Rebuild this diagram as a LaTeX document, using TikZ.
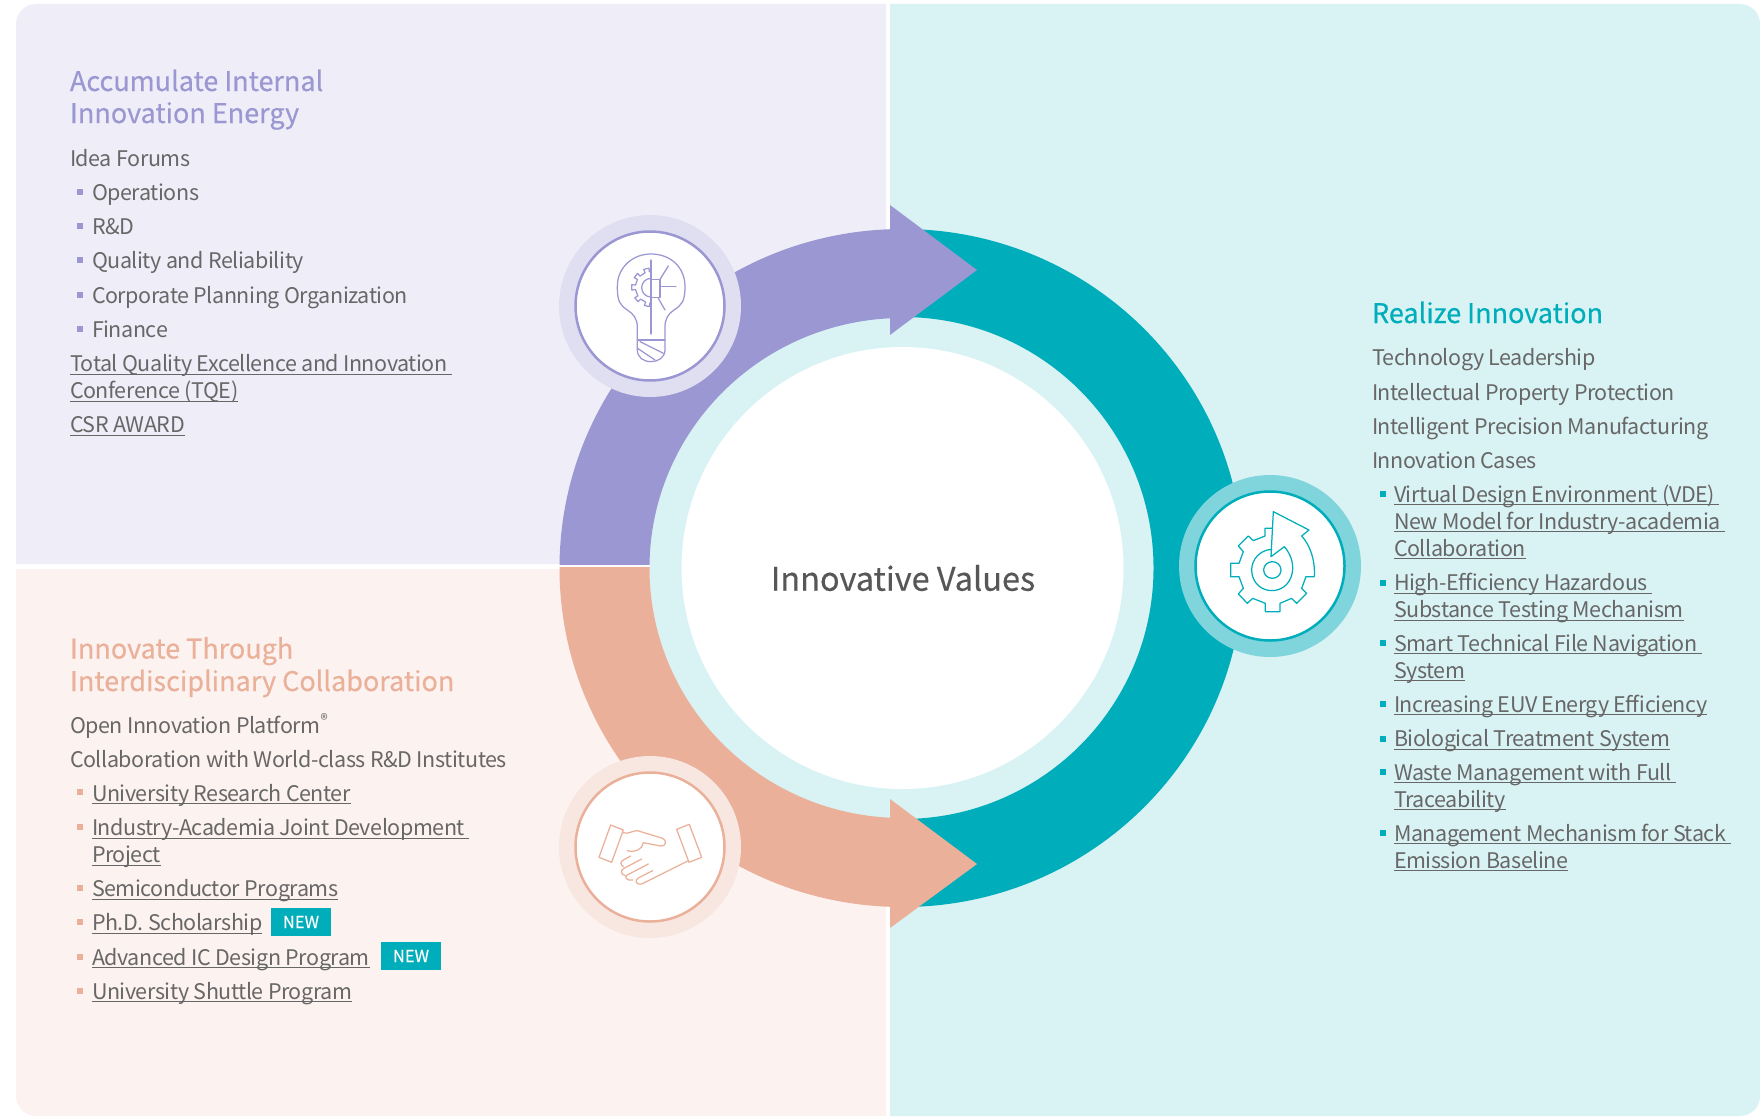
\documentclass[tikz,border=0pt]{standalone}
\usepackage{fontspec}
\setmainfont{Noto Sans CJK SC}[LetterSpace=-2]
\newfontfamily\medfont{Noto Sans CJK SC}[FakeBold=0.35]
\definecolor{pnlP}{HTML}{EFEEF8}
\definecolor{pnlS}{HTML}{FCF2EF}
\definecolor{pnlT}{HTML}{D9F3F4}
\definecolor{cP}{HTML}{9B97D2}
\definecolor{cS}{HTML}{EAB09A}
\definecolor{cT}{HTML}{00ADBB}
\definecolor{hP}{HTML}{E0DFF1}
\definecolor{hS}{HTML}{F8E7E1}
\definecolor{hT}{HTML}{80D5DD}
\definecolor{txt}{HTML}{686767}
\newcommand\ulk[1]{\setbox0\hbox{#1}\rlap{\rule[-3.2pt]{\wd0}{1pt}}\box0}
\tikzset{
 body/.style={anchor=base west,inner sep=0pt,outer sep=0pt,text=txt,font=\fontsize{21.5}{27}\selectfont},
 head/.style={anchor=base west,inner sep=0pt,outer sep=0pt,font=\medfont\fontsize{27}{32}\selectfont},
 bul/.style={inner sep=0pt,minimum size=6pt,outer sep=0pt},
 badge/.style={fill=cT,inner sep=0pt,minimum width=60pt,minimum height=28pt,text=white,font=\medfont\fontsize{16.5}{18}\selectfont},
 iconline/.style={line width=1.25pt,line join=round,line cap=round},
}
\begin{document}
\begin{tikzpicture}[x=1pt,y=-1pt]
\useasboundingbox (0,0) rectangle (1760,1116);
\fill[white] (0,0) rectangle (1760,1116);
% panels
\fill[pnlP] (16,564) [rounded corners=20pt] -- (16,4) -- (60,4) [sharp corners] -- (886,4) -- (886,564) -- cycle;
\fill[pnlS] (886,569) -- (16,569) [rounded corners=20pt] -- (16,1116) -- (60,1116) [sharp corners] -- (886,1116) -- cycle;
\fill[pnlT] (890,4) -- (1700,4) [rounded corners=20pt] -- (1760,4) -- (1760,1116) -- (1700,1116) [sharp corners] -- (890,1116) -- cycle;
% centre
\fill[pnlT] (902.5,568) circle [x radius=253,y radius=251];
% ring segments
\begin{scope}
\clip (890,0) rectangle (1760,1116);
\fill[cT,even odd rule] (902.5,568) circle [x radius=341,y radius=339] (902.5,568) circle (251);
\end{scope}
\begin{scope}
\clip (0,0) rectangle (890,564.5);
\fill[cP,even odd rule] (902.5,568) circle [x radius=343,y radius=339] (902.5,568) circle [x radius=253,y radius=250];
\end{scope}
\begin{scope}
\clip (0,567.5) rectangle (890,1116);
\fill[cS,even odd rule] (902.5,568) circle [x radius=343,y radius=339] (902.5,568) circle [x radius=253,y radius=250];
\end{scope}
\fill[cP] (890,205) -- (977,270) -- (890,335) -- cycle;
\fill[cS] (890,799) -- (977,864) -- (890,928) -- cycle;
\node[circle,fill=white,minimum size=442pt,inner sep=0pt] (core) at (902.5,568) {};
\node[inner sep=0pt,text=txt!85!black,font=\medfont\fontsize{32.5}{40}\selectfont] (coretxt) at (903,578) {Innovative Values};
% icon discs
\node[circle,fill=hP,minimum size=182pt,inner sep=0pt] (h1) at (650,306) {};
\node[circle,fill=white,draw=cP,line width=2.5pt,minimum size=149pt,inner sep=0pt] (d1) at (650,306) {};
\node[circle,fill=hS,minimum size=182pt,inner sep=0pt] (h2) at (650,847) {};
\node[circle,fill=white,draw=cS,line width=2.5pt,minimum size=149pt,inner sep=0pt] (d2) at (650,847) {};
\node[circle,fill=hT,minimum size=182pt,inner sep=0pt] (h3) at (1270,566) {};
\node[circle,fill=white,draw=cT,line width=2.5pt,minimum size=149pt,inner sep=0pt] (d3) at (1270,566) {};
% bulb
\begin{scope}[shift={(540,190)},x=.3333pt,y=-.3333pt,iconline,draw=cP]
\draw (292,450) -- (292,412) .. controls (292,385) and (280,372) .. (262,360) .. controls (240,345) and (232,335) .. (232,290) .. controls (232,230) and (280,192) .. (333,192) .. controls (390,192) and (435,230) .. (435,290) .. controls (435,335) and (425,345) .. (402,360) .. controls (385,372) and (375,385) .. (375,412) -- (375,480) .. controls (375,502) and (355,515) .. (333,515) .. controls (310,515) and (292,502) .. (292,480) -- cycle;
\draw (292,450) -- (375,450);
\draw (300,455) -- (370,490);
\draw (294,476) -- (345,510);
\draw (333,210) -- (333,432);
\draw (333,268) -- (360,268) -- (360,322) -- (333,322);
\draw (360,268) -- (385,228);
\draw (362,290) -- (408,290);
\draw (355,325) -- (375,360);
\draw (333,265) arc (-90:-270:28);
\begin{scope}[shift={(333,292)}]
\draw (90:47) -- (94:47) -- (95:58) -- (110:58) -- (110:47) -- (131:47) -- (132:58) -- (147:58) -- (147:47) -- (172:47) -- (172:58) -- (188:58) -- (188:47) -- (210:47) -- (210:58) -- (226:58) -- (226:47) -- (248:47) -- (248:58) -- (264:58) -- (264:47) -- (270:47);
\end{scope}
\end{scope}
% handshake
\begin{scope}[shift={(540,740)},x=.3333pt,y=-.3333pt,iconline,draw=cS]
\draw (212,255) -- (250,270) -- (215,367) -- (177,352) -- cycle;
\draw (410,268) -- (448,253) -- (485,352) -- (447,367) -- cycle;
\draw (250,278) .. controls (265,284) and (275,272) .. (292,272) -- (368,295) .. controls (382,302) and (378,320) .. (362,318) -- (310,308) .. controls (308,328) and (285,338) .. (262,332);
\draw (445,362) -- (305,432) .. controls (288,436) and (282,420) .. (295,414) -- (338,392);
\draw (325,372) -- (262,405) .. controls (250,410) and (262,424) .. (278,420);
\draw (305,357) -- (252,385) .. controls (238,392) and (245,405) .. (255,406);
\draw (272,348) -- (250,360) .. controls (240,366) and (240,372) .. (250,380);
\end{scope}
% gear
\begin{scope}[shift={(1160,460)},x=.3333pt,y=-.3333pt,iconline,draw=cT]
\draw (337,330) circle [x radius=26,y radius=25];
\draw (335,205) -- (315,205) -- (315,228) -- (280,242) -- (265,228) -- (235,258) -- (250,275) -- (237,310) -- (212,310) -- (212,350) -- (237,350) -- (250,385) -- (235,402) -- (262,430) -- (278,415) -- (316,430) -- (316,455) -- (360,455) -- (360,430) -- (395,415) -- (410,430) -- (440,400) -- (425,385) -- (438,350) -- (463,350) .. controls (466,300) and (450,255) .. (425,228) -- (447,210) -- (340,155) -- (333,290) -- (373,260) .. controls (395,285) and (405,320) .. (393,352) .. controls (380,385) and (350,395) .. (325,391) .. controls (295,386) and (275,360) .. (275,330) .. controls (275,298) and (300,270) .. (335,268);
\end{scope}
% top-left text
\node[head,text=cP] (a1) at (70,91) {Accumulate Internal};
\node[head,text=cP] (a2) at (70,123) {Innovation Energy};
\node[body] (a3) at (70,166) {Idea Forums};
\node[body] (a4) at (92,200) {Operations};
\node[body] (a5) at (92,234) {R\&D};
\node[body] (a6) at (92,268) {Quality and Reliability};
\node[body] (a7) at (92,303) {Corporate Planning Organization};
\node[body] (a8) at (92,337) {Finance};
\node[body] (a9) at (70,371.5) {\ulk{Total Quality Excellence and Innovation\ }};
\node[body] (a10) at (70,398.5) {\ulk{Conference (TQE)}};
\node[body] (a11) at (70,432.5) {\ulk{CSR AWARD}};
\foreach \n/\y in {p1/192,p2/226,p3/260,p4/295,p5/329}
  \node[bul,fill=cP] (\n) at (80,\y) {};
% bottom-left text
\node[head,text=cS] (b1) at (70,658.5) {Innovate Through};
\node[head,text=cS] (b2) at (70,691) {Interdisciplinary Collaboration};
\node[body] (b3) at (70,733) {Open Innovation Platform\textsuperscript{\fontsize{15}{15}\selectfont ®}};
\node[body] (b4) at (70,767) {Collaboration with World-class R\&D Institutes};
\node[body] (b5) at (92,801) {\ulk{University Research Center}};
\node[body] (b6) at (92,835.5) {\ulk{Industry-Academia Joint Development\ }};
\node[body] (b7) at (92,862.5) {\ulk{Project}};
\node[body] (b8) at (92,896.5) {\ulk{Semiconductor Programs}};
\node[body] (b9) at (92,930.5) {\ulk{Ph.D. Scholarship}};
\node[body] (b10) at (92,965) {\ulk{Advanced IC Design Program}};
\node[body] (b11) at (92,999) {\ulk{University Shuttle Program}};
\foreach \n/\y in {s1/792,s2/827,s3/888,s4/922,s5/957,s6/991}
  \node[bul,fill=cS] (\n) at (80,\y) {};
\node[badge] (n1) at (301,922) {NEW};
\node[badge] (n2) at (411,956) {NEW};
% right text
\node[head,text=cT] (c1) at (1372,323) {Realize Innovation};
\node[body] (c2) at (1372,365) {Technology Leadership};
\node[body] (c3) at (1372,400) {Intellectual Property Protection};
\node[body] (c4) at (1372,434.5) {Intelligent Precision Manufacturing};
\node[body] (c5) at (1372,468) {Innovation Cases};
\node[body] (c6) at (1394,502) {\ulk{Virtual Design Environment (VDE)\ }};
\node[body] (c7) at (1394,529) {\ulk{New Model for Industry-academia\ }};
\node[body] (c8) at (1394,556) {\ulk{Collaboration}};
\node[body] (c9) at (1394,590.5) {\ulk{High-Efficiency Hazardous\ }};
\node[body] (c10) at (1394,617.5) {\ulk{Substance Testing Mechanism}};
\node[body] (c11) at (1394,651) {\ulk{Smart Technical File Navigation\ }};
\node[body] (c12) at (1394,678) {\ulk{System}};
\node[body] (c13) at (1394,712) {\ulk{Increasing EUV Energy Efficiency}};
\node[body] (c14) at (1394,746.5) {\ulk{Biological Treatment System}};
\node[body] (c15) at (1394,780) {\ulk{Waste Management with Full\ }};
\node[body] (c16) at (1394,807) {\ulk{Traceability}};
\node[body] (c17) at (1394,841) {\ulk{Management Mechanism for Stack\ }};
\node[body] (c18) at (1394,868) {\ulk{Emission Baseline}};
\foreach \n/\y in {t1/494,t2/582.5,t3/643,t4/704,t5/738.5,t6/772,t7/833}
  \node[bul,fill=cT] (\n) at (1383,\y) {};
\end{tikzpicture}
\end{document}
